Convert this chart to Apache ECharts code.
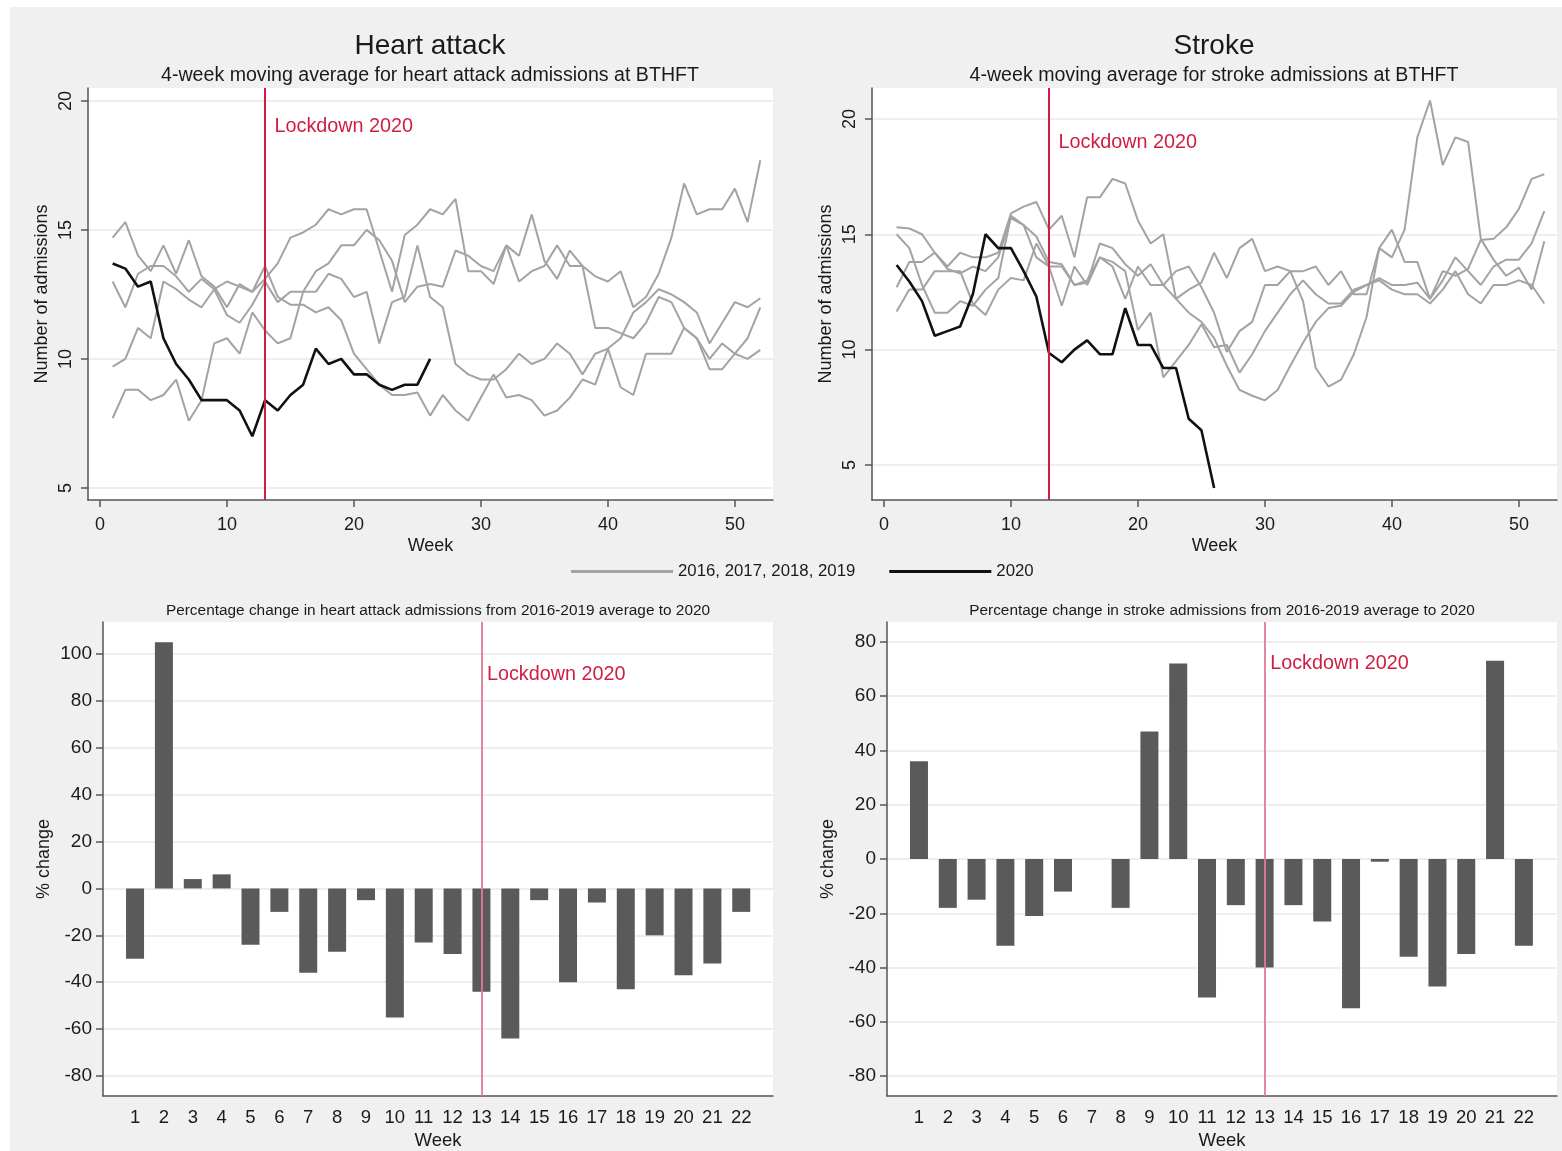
<!DOCTYPE html>
<html>
<head>
<meta charset="utf-8">
<script src="https://cdn.jsdelivr.net/npm/echarts@6/dist/echarts.min.js"></script>
<style>
html,body{margin:0;padding:0;background:#fff;}
#chart{width:1562px;height:1151px;}
</style>
</head>
<body>
<div id="chart"></div>
<script>
// ---------- data ----------
const weeks = [1,2,3,4,5,6,7,8,9,10,11,12,13,14,15,16,17,18,19,20,21,22,23,24,25,26,27,28,29,30,31,32,33,34,35,36,37,38,39,40,41,42,43,44,45,46,47,48,49,50,51,52];
const weeks2020 = [1,2,3,4,5,6,7,8,9,10,11,12,13,14,15,16,17,18,19,20,21,22,23,24,25,26];
const barWeeks = [1,2,3,4,5,6,7,8,9,10,11,12,13,14,15,16,17,18,19,20,21,22];
const xTicks = [0,10,20,30,40,50];
const yTicksLine = [5,10,15,20];
const yTicksHA = [-80,-60,-40,-20,0,20,40,60,80,100];
const yTicksST = [-80,-60,-40,-20,0,20,40,60,80];
const lockdownWeek = 13;

// Heart attack, 4-week moving averages, four previous years (2016-2019)
const haA = [14.7,15.3,14.0,13.4,14.4,13.3,14.6,13.2,12.8,12.0,12.9,12.6,13.1,
             13.7,14.7,14.9,15.2,15.8,15.6,15.8,15.8,14.2,12.6,14.8,15.2,15.8,
             15.6,16.2,13.4,13.4,12.9,14.4,14.0,15.6,13.8,13.1,14.2,13.6,13.2,
             13.0,13.4,12.0,12.4,13.3,14.7,16.8,15.6,15.8,15.8,16.6,15.3,17.7];
const haB = [13.0,12.0,13.3,13.6,13.6,13.2,12.6,13.1,12.7,11.7,11.4,12.1,13.0,
             12.2,12.6,12.6,13.4,13.7,14.4,14.4,15.0,14.6,13.8,12.2,12.8,12.9,
             12.8,14.2,14.0,13.6,13.4,14.4,13.0,13.4,13.6,14.4,13.6,13.6,11.2,
             11.2,11.0,10.8,11.4,12.4,12.2,11.2,10.8,10.0,10.6,10.2,10.8,12.0];
const haC = [9.7,10.0,11.2,10.8,13.0,12.7,12.3,12.0,12.7,13.0,12.8,12.6,13.6,
             12.4,12.1,12.1,11.8,12.0,11.5,10.2,9.6,9.0,8.6,8.6,8.7,7.8,
             8.6,8.0,7.6,8.5,9.4,8.5,8.6,8.4,7.8,8.0,8.5,9.2,9.0,
             10.4,10.8,11.8,12.2,12.7,12.5,12.2,11.8,10.6,11.4,12.2,12.0,12.35];
const haD = [7.7,8.8,8.8,8.4,8.6,9.2,7.6,8.4,10.6,10.8,10.2,11.8,11.1,
             10.6,10.8,12.6,12.6,13.3,13.1,12.4,12.6,10.6,12.2,12.4,14.4,12.4,
             12.0,9.8,9.4,9.2,9.2,9.6,10.2,9.8,10.0,10.6,10.2,9.4,10.2,
             10.4,8.9,8.6,10.2,10.2,10.2,11.2,10.8,9.6,9.6,10.2,10.0,10.35];
const ha2020 = [13.7,13.5,12.8,13.0,10.8,9.8,9.2,8.4,8.4,8.4,8.0,7.0,8.4,
                8.0,8.6,9.0,10.4,9.8,10.0,9.4,9.4,9.0,8.8,9.0,9.0,10.0];

// Stroke, 4-week moving averages
const stA = [15.3,15.25,15.0,14.2,13.6,14.2,14.0,14.0,14.2,15.9,16.2,16.4,15.2,
             15.8,14.0,16.6,16.6,17.4,17.2,15.6,14.6,15.0,12.2,11.6,11.2,10.5,
             9.3,8.25,8.0,7.8,8.25,9.3,10.3,11.2,11.8,11.9,12.5,12.8,13.1,
             12.8,12.8,12.9,12.2,13.4,13.2,13.5,14.75,14.8,15.3,16.1,17.4,17.6];
const stB = [15.0,14.4,12.8,11.6,11.6,12.1,11.9,12.6,13.1,15.8,15.4,14.0,13.6,
             13.6,12.8,12.9,14.6,14.4,13.7,13.2,13.7,12.8,12.2,12.6,12.9,14.2,
             13.1,14.4,14.8,13.4,13.6,13.4,13.4,13.6,12.8,13.4,12.4,12.4,14.4,
             14.0,15.2,19.2,20.8,18.0,19.2,19.0,14.8,13.9,13.2,13.55,12.6,14.7];
const stC = [12.7,13.8,13.8,14.2,13.5,13.3,13.6,13.4,14.0,15.7,15.4,14.9,13.8,
             13.7,12.8,13.0,14.0,13.6,12.2,13.6,12.8,12.8,13.4,13.6,12.7,11.6,
             9.9,10.8,11.2,12.8,12.8,13.4,12.1,9.2,8.4,8.7,9.8,11.4,14.4,
             15.2,13.8,13.8,12.2,13.0,14.0,13.4,12.8,13.6,13.9,13.9,14.6,16.0];
const stD = [11.65,12.6,12.6,13.4,13.4,13.4,12.0,11.5,12.6,13.1,13.0,14.6,13.6,
             11.9,13.6,12.8,14.0,13.8,13.4,10.85,11.6,8.8,9.5,10.2,11.1,10.1,
             10.2,9.0,9.8,10.8,11.6,12.4,13.0,12.4,12.0,12.0,12.6,12.8,13.0,
             12.6,12.4,12.4,12.0,12.6,13.4,12.4,12.0,12.8,12.8,13.0,12.8,12.0];
const st2020 = [13.67,12.95,12.1,10.6,10.8,11.0,12.4,15.0,14.4,14.4,13.4,12.3,9.85,
                9.45,10.0,10.4,9.8,9.8,11.8,10.2,10.2,9.2,9.2,7.0,6.5,4.0];

// Percentage change from 2016-2019 average to 2020
const haPct = [-30,105,4,6,-24,-10,-36,-27,-5,-55,-23,-28,-44,-64,-5,-40,-6,-43,-20,-37,-32,-10];
const stPct = [36,-18,-15,-32,-21,-12,0,-18,47,72,-51,-17,-40,-17,-23,-55,-1,-36,-47,-35,73,-32];

const prevName = '2016, 2017, 2018, 2019';
const curName = '2020';

// ---------- styling ----------
const FONT = 'Liberation Sans, Arial, sans-serif';
const TXT = '#1a1a1a';
const AXIS = '#555555';
const GRID = '#e9e9e9';
const GREY = '#a3a3a3';
const RED = '#cf1d44';

function pairs(xs, ys){ return xs.map((x,i)=>[x, ys[i]]); }

function lineXAxis(idx){
  return {
    type:'value', gridIndex: idx, min:-0.94, max:53,
    axisLine:{show:true, onZero:false, lineStyle:{color:AXIS, width:1.5}},
    axisTick:{show:true, customValues:xTicks, length:7, lineStyle:{color:AXIS, width:1.5}},
    axisLabel:{customValues:xTicks, fontSize:18, color:TXT, fontFamily:FONT, margin:16},
    splitLine:{show:false},
    name:'Week', nameLocation:'middle', nameGap:37,
    nameTextStyle:{fontSize:18, color:TXT, fontFamily:FONT}
  };
}
function lineYAxis(idx, mn, mx){
  return {
    type:'value', gridIndex: idx, min:mn, max:mx,
    axisLine:{show:true, onZero:false, lineStyle:{color:AXIS, width:1.5}},
    axisTick:{show:true, customValues:yTicksLine, length:7, lineStyle:{color:AXIS, width:1.5}},
    axisLabel:{customValues:yTicksLine, fontSize:18, color:TXT, fontFamily:FONT, rotate:90, margin:13},
    splitLine:{show:true, lineStyle:{color:GRID, width:1.5}},
    name:'Number of admissions', nameLocation:'middle', nameGap:37, nameRotate:90,
    nameTextStyle:{fontSize:18, color:TXT, fontFamily:FONT}
  };
}
function barXAxis(idx, mx){
  return {
    type:'value', gridIndex: idx, min:-0.11, max:mx,
    axisLine:{show:true, onZero:false, lineStyle:{color:AXIS, width:1.5}},
    axisTick:{show:false, customValues:barWeeks},
    axisLabel:{customValues:barWeeks, fontSize:18.5, color:TXT, fontFamily:FONT, margin:12},
    splitLine:{show:false},
    name:'Week', nameLocation:'middle', nameGap:35,
    nameTextStyle:{fontSize:18.5, color:TXT, fontFamily:FONT}
  };
}
function barYAxis(idx, mn, mx, ticks){
  return {
    type:'value', gridIndex: idx, min:mn, max:mx,
    axisLine:{show:true, onZero:false, lineStyle:{color:AXIS, width:1.5}},
    axisTick:{show:true, customValues:ticks, length:7, lineStyle:{color:AXIS, width:1.5}},
    axisLabel:{customValues:ticks, fontSize:19, color:TXT, fontFamily:FONT, margin:11},
    splitLine:{show:true, lineStyle:{color:GRID, width:1.5}},
    name:'% change', nameLocation:'middle', nameGap:50, nameRotate:90,
    nameTextStyle:{fontSize:18, color:TXT, fontFamily:FONT}
  };
}

function greyLine(idx, ys){
  return {type:'line', name:prevName, xAxisIndex:idx, yAxisIndex:idx, data:pairs(weeks, ys),
    symbol:'none', silent:true, color:GREY, lineStyle:{color:GREY, width:2}, z:2};
}
function lockdown(lineW, lineColor){
  return {
    symbol:['none','none'], silent:true,
    lineStyle:{color:lineColor, width:lineW, type:'solid'},
    label:{show:false},
    data:[{xAxis:lockdownWeek}]
  };
}
function lockLabel(yVal, dist){
  return {
    silent:true,
    data:[{coord:[lockdownWeek, yVal], symbol:'circle', symbolSize:1, itemStyle:{color:'rgba(0,0,0,0)'},
      label:{show:true, position:'right', distance:dist, formatter:'Lockdown 2020', color:RED, fontSize:19.8, fontFamily:FONT}}]
  };
}
function blackLine(idx, ys, labelY){
  return {type:'line', name:curName, xAxisIndex:idx, yAxisIndex:idx, data:pairs(weeks2020, ys),
    symbol:'none', silent:true, color:'#111', lineStyle:{color:'#111', width:2.6}, z:4,
    markLine: lockdown(2, RED), markPoint: lockLabel(labelY, 9)};
}
function bars(idx, ys, labelY){
  return {type:'bar', xAxisIndex:idx, yAxisIndex:idx, data:pairs(barWeeks, ys), barWidth:18,
    silent:true, itemStyle:{color:'#5a5a5a'},
    markLine: lockdown(1.8, '#e27a93'), markPoint: lockLabel(labelY, 5)};
}

function txt(s, x, y, size){
  return {type:'text', x:x, y:y, silent:true,
    style:{text:s, fontSize:size, fontFamily:FONT, fill:TXT, textAlign:'center', textVerticalAlign:'middle', align:'center', verticalAlign:'middle'}};
}

const chart = echarts.init(document.getElementById('chart'));
chart.setOption({
  animation:false,
  backgroundColor:'#ffffff',
  graphic:[
    {type:'rect', shape:{x:10, y:7, width:1552, height:1144}, style:{fill:'#f0f0f0'}, z:-100, silent:true},
    txt('Heart attack', 430, 46, 28),
    txt('4-week moving average for heart attack admissions at BTHFT', 430, 76, 19.6),
    txt('Stroke', 1214, 46, 28),
    txt('4-week moving average for stroke admissions at BTHFT', 1214, 76, 19.6),
    txt('Percentage change in heart attack admissions from 2016-2019 average to 2020', 438, 611, 15.4),
    txt('Percentage change in stroke admissions from 2016-2019 average to 2020', 1222, 611, 15.4)
  ],
  legend:{
    left:566, top:558, icon:'rect', itemWidth:102, itemHeight:3, itemGap:34,
    textStyle:{fontSize:16.8, color:TXT, fontFamily:FONT},
    data:[{name:prevName}, {name:curName}], selectedMode:false
  },
  grid:[
    {left:88, top:88, width:685, height:412, show:true, backgroundColor:'#fff', borderWidth:0},
    {left:872, top:88, width:685, height:412, show:true, backgroundColor:'#fff', borderWidth:0},
    {left:103, top:622, width:670, height:476, show:true, backgroundColor:'#fff', borderWidth:0},
    {left:887, top:622, width:670, height:476, show:true, backgroundColor:'#fff', borderWidth:0}
  ],
  xAxis:[lineXAxis(0), lineXAxis(1), barXAxis(2, 23.1), barXAxis(3, 23.15)],
  yAxis:[lineYAxis(0, 4.53, 20.5), lineYAxis(1, 3.48, 21.34),
         barYAxis(2, -88.5, 113.6, yTicksHA), barYAxis(3, -87.3, 87.3, yTicksST)],
  series:[
    greyLine(0, haA), greyLine(0, haB), greyLine(0, haC), greyLine(0, haD),
    blackLine(0, ha2020, 19.0),
    greyLine(1, stA), greyLine(1, stB), greyLine(1, stC), greyLine(1, stD),
    blackLine(1, st2020, 18.96),
    bars(2, haPct, 91),
    bars(3, stPct, 72)
  ]
});
</script>
</body>
</html>
